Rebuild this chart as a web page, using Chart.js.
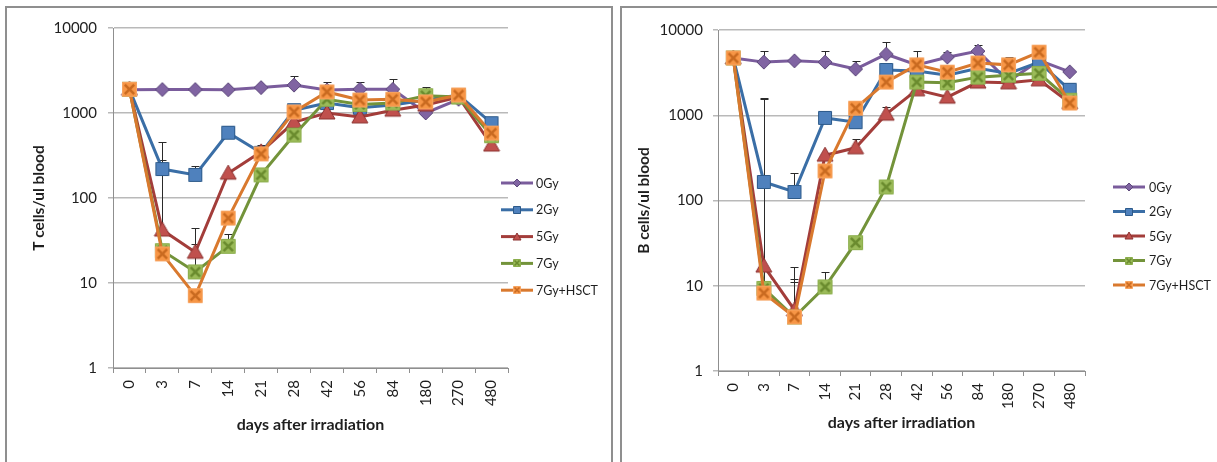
<!DOCTYPE html>
<html>
<head>
<meta charset="utf-8">
<script src="https://cdn.jsdelivr.net/npm/chart.js@4.4.1/dist/chart.umd.min.js"></script>
<style>
  html, body { margin: 0; padding: 0; background: #fff; overflow: hidden; width: 1217px; height: 462px; }
  .panel { position: absolute; top: 6px; height: 470px; border: 2px solid #8f8f8f; border-bottom: none; }
  #panelT { left: 5px; width: 604px; }
  #panelB { left: 620px; width: 600px; }
  .panel canvas { position: absolute; left: 0; top: 0; }
</style>
</head>
<body>
<div class="panel" id="panelT"><canvas id="chartT" width="604" height="454"></canvas></div>
<div class="panel" id="panelB"><canvas id="chartB" width="595" height="454"></canvas></div>
<script>
// Sampling days and log-axis ticks
const days = ['0', '3', '7', '14', '21', '28', '42', '56', '84', '180', '270', '480'];
const yTicks = [1, 10, 100, 1000, 10000];
const seriesNames = ['0Gy', '2Gy', '5Gy', '7Gy', '7Gy+HSCT'];

// T cells / ul blood (means)
const t0Gy   = [1880, 1890, 1890, 1880, 1990, 2130, 1870, 1900, 1900, 1000, 1450, null];
const t2Gy   = [1900, 219, 187, 586, 340, 1080, 1310, 1150, 1240, 1420, 1630, 760];
const t5Gy   = [1900, 42, 23, 196, 350, 780, 1000, 900, 1080, 1240, 1540, 420];
const t7Gy   = [1900, 24, 13.5, 27, 187, 550, 1450, 1260, 1310, 1600, 1540, 540];
const tHSCT  = [1900, 22, 7.1, 58, 330, 1030, 1770, 1420, 1450, 1350, 1630, 580];

// T cells: upper end of the error bars
const t0GyErr  = [null, null, null, null, null, 2700, 2300, 2300, 2500, null, null, null];
const t2GyErr  = [null, 460, 240, null, 420, null, null, null, null, null, null, null];
const t5GyErr  = [null, 280, 44, null, null, null, null, null, null, null, null, null];
const t7GyErr  = [null, null, 29, 38, null, null, null, null, null, 2000, null, null];
const tHSCTErr = [null, null, null, null, null, null, null, null, null, null, null, null];

// B cells / ul blood (means)
const b0Gy   = [4700, 4200, 4350, 4200, 3480, 5200, 3900, 4800, 5650, 2500, 4400, 3230];
const b2Gy   = [4700, 165, 126, 930, 830, 3400, 3300, 2950, 3560, 3100, 4200, 1990];
const b5Gy   = [4700, 17, 5.2, 340, 415, 1030, 1990, 1630, 2450, 2400, 2600, 1400];
const b7Gy   = [4700, 9.3, 4.3, 9.7, 32, 144, 2450, 2400, 2800, 2950, 3100, 1500];
const bHSCT  = [4700, 8.2, 4.3, 222, 1210, 2450, 3900, 3200, 4100, 3900, 5500, 1390];

// B cells: upper end of the error bars
const b0GyErr  = [null, 5650, null, 5650, 4350, 7200, 5650, 5500, 6600, null, null, null];
const b2GyErr  = [null, 1600, 210, null, null, null, null, null, null, null, null, null];
const b5GyErr  = [null, null, 16.7, null, 530, 1250, null, null, null, null, null, null];
const b7GyErr  = [null, null, 12, 14.5, null, null, null, null, null, null, null, null];
const bHSCTErr = [null, 1550, 11, null, null, null, null, null, null, 4800, null, null];

// Series appearance (line colour, marker shape and colours)
const looks = [
  { line: '#7A5C9C', fill: '#8064A2', edge: '#5E4A7C', shape: 'diamond',  size: 14 },
  { line: '#3A6EA6', fill: '#4F81BD', edge: '#2D5A8A', shape: 'square',   size: 14 },
  { line: '#A33D3A', fill: '#C0504D', edge: '#8C3331', shape: 'triangle', size: 16 },
  { line: '#73933A', fill: '#9BBB59', edge: '#8BAE4C', shape: 'square',   size: 15, cross: '#6A8B2E' },
  { line: '#D9792E', fill: '#F79646', edge: '#F6A462', shape: 'square',   size: 15, cross: '#C96A20' }
];

function makeMarker(look, size) {
  const s = size + 2;
  const c = document.createElement('canvas');
  c.width = s; c.height = s;
  const g = c.getContext('2d');
  const m = s / 2, h = size / 2;
  g.fillStyle = look.fill;
  g.strokeStyle = look.edge;
  g.lineWidth = 1;
  g.beginPath();
  if (look.shape === 'diamond') {
    g.moveTo(m, m - h); g.lineTo(m + h, m); g.lineTo(m, m + h); g.lineTo(m - h, m); g.closePath();
  } else if (look.shape === 'triangle') {
    g.moveTo(m, m - h); g.lineTo(m + h, m + h * 0.75); g.lineTo(m - h, m + h * 0.75); g.closePath();
  } else {
    g.rect(m - h + 0.5, m - h + 0.5, size - 1, size - 1);
  }
  g.fill(); g.stroke();
  if (look.cross) {
    const k = h * 0.62;
    g.strokeStyle = look.cross;
    g.lineWidth = size > 10 ? 2.6 : 1.6;
    g.beginPath();
    g.moveTo(m - k, m - k); g.lineTo(m + k, m + k);
    g.moveTo(m + k, m - k); g.lineTo(m - k, m + k);
    g.stroke();
  }
  return c;
}

// Upward error bars with a short cap
const errorBars = {
  id: 'errorBars',
  beforeDatasetsDraw(chart) {
    const { ctx, scales: { x, y } } = chart;
    ctx.save();
    ctx.strokeStyle = '#2a2a2a';
    ctx.lineWidth = 1;
    chart.data.datasets.forEach(ds => {
      if (!ds.errHigh) return;
      ds.errHigh.forEach((hi, i) => {
        if (hi == null || ds.data[i] == null) return;
        const px = Math.round(x.getPixelForValue(i)) + 0.5;
        const y0 = y.getPixelForValue(ds.data[i]);
        const y1 = Math.round(y.getPixelForValue(hi)) + 0.5;
        ctx.beginPath();
        ctx.moveTo(px, y0); ctx.lineTo(px, y1);
        ctx.moveTo(px - 4, y1); ctx.lineTo(px + 4, y1);
        ctx.stroke();
      });
    });
    ctx.restore();
  }
};

// Legend: line sample with marker, then the series name
const sideLegend = {
  id: 'sideLegend',
  afterDraw(chart, args, o) {
    const ctx = chart.ctx;
    ctx.save();
    ctx.font = '12.5px Lato';
    ctx.fillStyle = '#1f1f1f';
    ctx.textBaseline = 'middle';
    ctx.textAlign = 'left';
    chart.data.datasets.forEach((ds, i) => {
      const y = o.y + i * o.dy;
      ctx.strokeStyle = ds.borderColor;
      ctx.lineWidth = 3;
      ctx.beginPath();
      ctx.moveTo(o.x, y); ctx.lineTo(o.x + o.len, y);
      ctx.stroke();
      const img = ds.legendMark;
      ctx.drawImage(img, Math.round(o.x + o.len / 2 - img.width / 2), Math.round(y - img.height / 2));
      ctx.fillText(ds.label, o.x + o.len + o.gap, y + 0.5);
    });
    ctx.restore();
  }
};

Chart.defaults.font.family = 'Lato, "Open Sans", sans-serif';
Chart.defaults.color = '#1f1f1f';

function buildChart(id, yTitle, values, errs, geo) {
  const datasets = values.map((vals, i) => ({
    label: seriesNames[i],
    data: vals,
    errHigh: errs[i],
    borderColor: looks[i].line,
    backgroundColor: looks[i].fill,
    borderWidth: 3,
    pointStyle: makeMarker(looks[i], looks[i].size),
    legendMark: makeMarker(looks[i], 8),
    pointRadius: 7,
    tension: 0,
    order: values.length - i
  }));
  return new Chart(document.getElementById(id), {
    type: 'line',
    data: { labels: days, datasets },
    plugins: [errorBars, sideLegend],
    options: {
      responsive: false,
      animation: false,
      devicePixelRatio: 1,
      events: [],
      layout: { padding: { left: 0, top: geo.padTop, right: geo.padRight, bottom: 0 } },
      plugins: {
        legend: { display: false },
        tooltip: { enabled: false },
        sideLegend: geo.legend
      },
      scales: {
        x: {
          type: 'category',
          offset: true,
          grid: { offset: true, drawOnChartArea: false, drawTicks: true, tickLength: 5, color: '#8f8f8f', lineWidth: 1 },
          border: { display: true, color: '#8f8f8f', width: 1 },
          ticks: { minRotation: 90, maxRotation: 90, autoSkip: false, padding: 7, font: { size: 15 } },
          title: { display: true, text: 'days after irradiation', font: { size: 16, weight: 'bold' }, padding: { top: 0, bottom: geo.xTitlePad } },
          afterFit(s) { s.height = geo.xHeight; s.paddingLeft = 0; s.paddingRight = 0; }
        },
        y: {
          type: 'logarithmic',
          min: 1,
          max: 10000,
          afterBuildTicks(s) { s.ticks = yTicks.map(v => ({ value: v })); },
          grid: { color: '#b9b9b9', lineWidth: 1.5, drawTicks: true, tickLength: 5 },
          border: { display: true, color: '#8f8f8f', width: 1 },
          ticks: { padding: geo.yTickPad, font: { size: 15 }, callback: v => String(v) },
          title: { display: true, text: yTitle, font: { size: 15.5, weight: 'bold' }, padding: { top: geo.yTitlePad, bottom: 0 } },
          afterFit(s) { s.width = geo.yWidth; s.paddingTop = 0; s.paddingBottom = 0; }
        }
      }
    }
  });
}

buildChart('chartT', 'T cells/ul blood',
  [t0Gy, t2Gy, t5Gy, t7Gy, tHSCT],
  [t0GyErr, t2GyErr, t5GyErr, t7GyErr, tHSCTErr],
  { padTop: 20, padRight: 103, yWidth: 106, xHeight: 94, yTitlePad: 22.7, xTitlePad: 27.4, yTickPad: 11,
    legend: { x: 494, y: 175, dy: 26.8, len: 32, gap: 3 } });

buildChart('chartB', 'B cells/ul blood',
  [b0Gy, b2Gy, b5Gy, b7Gy, bHSCT],
  [b0GyErr, b2GyErr, b5GyErr, b7GyErr, bHSCTErr],
  { padTop: 22, padRight: 132, yWidth: 96, xHeight: 91, yTitlePad: 12.7, xTitlePad: 29.4, yTickPad: 10,
    legend: { x: 491, y: 179, dy: 24.5, len: 32, gap: 4 } });
</script>
</body>
</html>
